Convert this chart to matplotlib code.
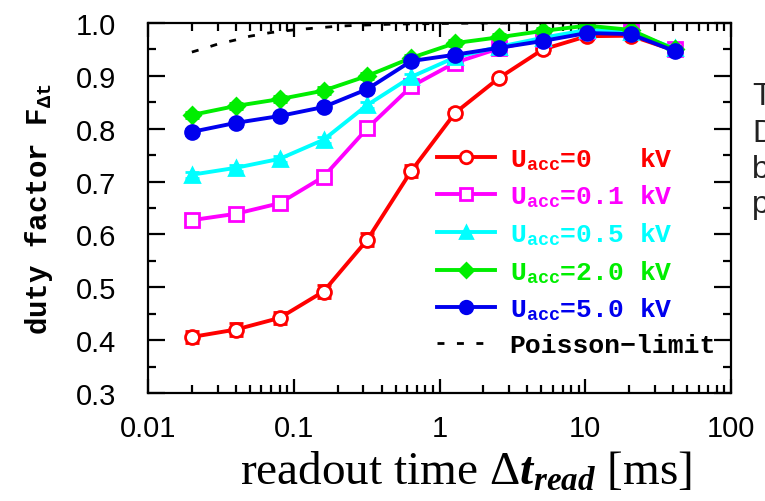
import numpy as np
import matplotlib
matplotlib.use("Agg")
import matplotlib.pyplot as plt
from matplotlib.ticker import FixedLocator, NullFormatter

plt.rcParams['mathtext.fontset'] = 'custom'
plt.rcParams['mathtext.rm'] = 'Liberation Serif'
plt.rcParams['mathtext.it'] = 'Liberation Serif:italic'
plt.rcParams['mathtext.bf'] = 'Liberation Serif:bold:italic'
plt.rcParams['mathtext.sf'] = 'Liberation Mono:bold'

# readout times [ms]
t_read = [0.02, 0.04, 0.08, 0.16, 0.32, 0.64, 1.28, 2.56, 5.12, 10.24, 20.48, 40.96]

# duty factors per acceleration voltage
f_0kv = [0.406, 0.420, 0.442, 0.492, 0.590, 0.720, 0.830, 0.896, 0.950, 0.975, 0.976, 0.948]
f_01kv = [0.627, 0.639, 0.659, 0.709, 0.801, 0.880, 0.925, 0.952, 0.970, 0.985, 0.985, 0.950]
f_05kv = [0.713, 0.726, 0.743, 0.779, 0.845, 0.898, 0.935, 0.955, 0.972, 0.987, 0.983, 0.952]
f_2kv = [0.826, 0.843, 0.856, 0.872, 0.900, 0.934, 0.962, 0.973, 0.985, 0.995, 0.987, 0.950]
f_5kv = [0.794, 0.811, 0.824, 0.841, 0.875, 0.928, 0.940, 0.953, 0.966, 0.981, 0.979, 0.947]

err_0kv = [0.012, 0.012, 0.012, 0.012, 0.012, 0.012, 0.008, 0.006, 0.006, 0.005, 0.005, 0.005]
err_other = [0.006] * 12

# poisson limit curve
t_pois = [0.02, 0.025, 0.03, 0.04, 0.05, 0.07, 0.1, 0.15, 0.2, 0.3, 0.5, 1.0, 2.0, 5.0, 10.0]
f_pois = [0.945, 0.953, 0.960, 0.968, 0.975, 0.982, 0.987, 0.991, 0.994, 0.996, 0.998, 0.999, 1.0, 1.0, 1.0]

fig = plt.figure(figsize=(7.65, 5.02), dpi=100)
ax = fig.add_axes([148 / 765, 1 - 394 / 502, (731 - 148) / 765, (394 - 24) / 502])

pois_ls = (0, (2.5, 4.5))
ax.plot(t_pois, f_pois, ls=pois_ls, color='black', lw=2, zorder=1)

series = [
    (f_0kv, err_0kv, 'red', 'o', 'white', r'U$_{\mathsf{acc}}$=0   kV'),
    (f_01kv, err_other, '#ff00ff', 's', 'white', r'U$_{\mathsf{acc}}$=0.1 kV'),
    (f_05kv, err_other, '#00ffff', '^', '#00ffff', r'U$_{\mathsf{acc}}$=0.5 kV'),
    (f_2kv, err_other, '#00ee00', 'D', '#00ee00', r'U$_{\mathsf{acc}}$=2.0 kV'),
    (f_5kv, err_other, '#0000ee', 'o', '#0000ee', r'U$_{\mathsf{acc}}$=5.0 kV'),
]
handles = []
for vals, err, col, mk, mfc, lab in series:
    ms = 8 if mk == 'D' else 10
    ax.errorbar(t_read, vals, yerr=err, color=col, lw=2.8, marker=mk, ms=ms,
                mfc=mfc, mec=col, mew=2, capsize=5, capthick=2, elinewidth=2)
    h, = ax.plot([], [], color=col, lw=2.8, marker=mk, ms=ms - 1, mfc=mfc, mec=col, mew=2, label=lab)
    handles.append(h)
hp, = ax.plot([], [], ls=pois_ls, color='black', lw=2, label='Poisson\u2212limit')
handles.append(hp)

ax.set_xscale('log')
ax.set_xlim(0.01, 100)
ax.set_ylim(0.3, 1.0)
ax.set_yticks(np.arange(0.3, 1.01, 0.1))
ax.set_yticklabels(['0.3', '0.4', '0.5', '0.6', '0.7', '0.8', '0.9', '1.0'])
ax.yaxis.set_minor_locator(FixedLocator(np.arange(0.35, 1.0, 0.1)))
ax.set_xticks([0.01, 0.1, 1, 10, 100])
ax.set_xticklabels(['0.01', '0.1', '1', '10', '100'])
ax.xaxis.set_minor_formatter(NullFormatter())

for s in ax.spines.values():
    s.set_linewidth(1.6)
ax.tick_params(axis='both', which='both', direction='in', width=1.6,
               top=True, right=True, labelsize=21)
ax.tick_params(axis='y', which='major', length=12, pad=23)
ax.tick_params(axis='y', which='minor', length=6)
ax.tick_params(axis='x', which='major', length=10, pad=15)
ax.tick_params(axis='x', which='minor', length=6)
for lbl in ax.get_xticklabels() + ax.get_yticklabels():
    lbl.set_family('Liberation Sans')

ax.set_xlabel(r'readout time $\Delta\mathbf{t}_{\mathbf{read}}$ [ms]',
              family='Liberation Serif', fontsize=34)
ax.xaxis.set_label_coords(0.545, -0.155)
ax.set_ylabel(r'duty factor F$_{\mathsf{\Delta t}}$', family='Liberation Mono',
              weight='bold', fontsize=21, labelpad=15)

leg = ax.legend(handles=handles, loc='upper left', bbox_to_anchor=(437 / 765, 1 - 146 / 502),
                bbox_transform=fig.transFigure, frameon=False, borderpad=0, borderaxespad=0,
                handlelength=2.2, handletextpad=0.55, labelspacing=0.42,
                prop={'family': 'Liberation Mono', 'weight': 'bold', 'size': 19},
                labelcolor='linecolor')

for ch, yb in zip(['T', 'D', 'b', 'p'], [105, 142, 178, 213]):
    fig.text(752 / 765, 1 - yb / 502, ch, family='Liberation Sans', fontsize=23,
             color='#222222', va='baseline', ha='left')

fig.savefig('out.png', dpi=100)
